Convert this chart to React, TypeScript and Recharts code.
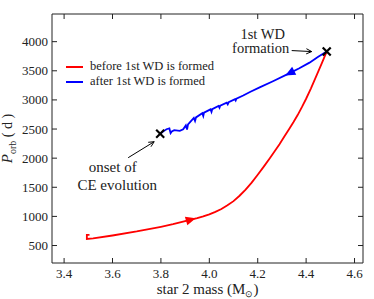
import React from 'react';
import { ComposedChart, Line, XAxis, YAxis, ReferenceDot, Legend, Label } from 'recharts';

const xTicks = [3.4, 3.6, 3.8, 4.0, 4.2, 4.4, 4.6];
const yTicks = [500, 1000, 1500, 2000, 2500, 3000, 3500, 4000];

const seriesNames = ['before 1st WD is formed', 'after 1st WD is formed'];
const seriesColors = ['#ff0000', '#0000ff'];

// before the 1st WD is formed (red)
const redMass = [
  3.505, 3.494, 3.494, 3.52, 3.6, 3.7, 3.8, 3.85, 3.9, 3.95, 3.975, 4.0, 4.025, 4.05,
  4.075, 4.1, 4.125, 4.15, 4.175, 4.2, 4.225, 4.25, 4.27, 4.29, 4.31, 4.33, 4.348,
  4.365, 4.383, 4.4, 4.42, 4.445, 4.465, 4.485,
];
const redPeriod = [
  683, 683, 612, 622, 672, 742, 822, 866, 918, 970, 1000, 1036, 1078, 1126,
  1190, 1262, 1355, 1460, 1580, 1715, 1855, 2000, 2120, 2240, 2370, 2500, 2620,
  2740, 2880, 3020, 3200, 3440, 3630, 3830,
];

// after the 1st WD is formed (blue), runs from right to left
const blueMass = [
  4.485, 4.45, 4.414, 4.37, 4.33, 4.263, 4.208, 4.17, 4.14, 4.112, 4.109, 4.106,
  4.08, 4.076, 4.072, 4.045, 4.042, 4.038, 4.012, 4.009, 4.005, 3.978, 3.975, 3.971,
  3.945, 3.941, 3.936, 3.912, 3.908, 3.903, 3.892, 3.878, 3.855, 3.845, 3.84, 3.835,
  3.823, 3.81, 3.797,
];
const bluePeriod = [
  3830, 3740, 3640, 3540, 3455, 3320, 3215, 3140, 3075, 3020, 2990, 3012,
  2960, 2925, 2952, 2900, 2865, 2897, 2840, 2795, 2838, 2780, 2725, 2772,
  2700, 2640, 2692, 2580, 2490, 2562, 2497, 2470, 2480, 2460, 2430, 2510,
  2497, 2460, 2420,
];

const crossPoints = [
  { m: 3.797, p: 2420 },
  { m: 4.485, p: 3830 },
];

const redData = redMass.map((m, i) => ({ m, p: redPeriod[i] }));
const blueData = blueMass.map((m, i) => ({ m, p: bluePeriod[i] }));

const FONT = "'Liberation Serif', 'Times New Roman', serif";
const INK = '#222';
const serif = { fontFamily: FONT };

const XTick = (props: any) => {
  const { x, y, payload } = props;
  return (
    <g>
      <line x1={x} y1={y} x2={x} y2={y - 5} stroke={INK} strokeWidth={1} />
      <text x={x} y={y + 15} textAnchor="middle" style={serif} fontSize={13} fill={INK}>
        {Number(payload.value).toFixed(1)}
      </text>
    </g>
  );
};

const YTick = (props: any) => {
  const { x, y, payload } = props;
  return (
    <g>
      <line x1={x} y1={y} x2={x + 5} y2={y} stroke={INK} strokeWidth={1} />
      <text x={x - 4} y={y + 4.5} textAnchor="end" style={serif} fontSize={13} fill={INK}>
        {payload.value}
      </text>
    </g>
  );
};

const TopTick = (props: any) => {
  const { x, y } = props;
  return <line x1={x} y1={y} x2={x} y2={y + 5} stroke={INK} strokeWidth={1} />;
};

const RightTick = (props: any) => {
  const { x, y } = props;
  return <line x1={x} y1={y} x2={x - 5} y2={y} stroke={INK} strokeWidth={1} />;
};

const Cross = ({ cx, cy }: any) => (
  <g stroke="#000" strokeWidth={2.2}>
    <line x1={cx - 4} y1={cy - 4} x2={cx + 4} y2={cy + 4} />
    <line x1={cx - 4} y1={cy + 4} x2={cx + 4} y2={cy - 4} />
  </g>
);

const arrowHead = (color: string, angle: number) => ({ cx, cy }: any) => (
  <polygon
    points="6,0 -4,-4.5 -4,4.5"
    fill={color}
    transform={`translate(${cx},${cy}) rotate(${angle})`}
  />
);

const OpenArrow = ({ x1, y1, x2, y2 }: { x1: number; y1: number; x2: number; y2: number }) => {
  const a = Math.atan2(y2 - y1, x2 - x1);
  const h = 6;
  const s = 0.45;
  return (
    <g stroke="#000" strokeWidth={1} fill="none">
      <line x1={x1} y1={y1} x2={x2} y2={y2} />
      <polyline
        points={`${x2 - h * Math.cos(a - s)},${y2 - h * Math.sin(a - s)} ${x2},${y2} ${x2 - h * Math.cos(a + s)},${y2 - h * Math.sin(a + s)}`}
      />
    </g>
  );
};

const OnsetNote = ({ cx, cy }: any) => (
  <g style={serif} fontSize={15} fill={INK}>
    <OpenArrow x1={cx - 32} y1={cy + 24} x2={cx - 6} y2={cy + 8} />
    <text x={cx - 47.5} y={cy + 38} textAnchor="middle">onset of</text>
    <text x={cx - 43} y={cy + 56} textAnchor="middle">CE evolution</text>
  </g>
);

const WdNote = ({ cx, cy }: any) => (
  <g style={serif} fontSize={14.5} fill={INK}>
    <OpenArrow x1={cx - 35} y1={cy - 1} x2={cx - 15} y2={cy} />
    <text x={cx - 64} y={cy - 13} textAnchor="middle">1st WD</text>
    <text x={cx - 66} y={cy + 1.5} textAnchor="middle">formation</text>
  </g>
);

const renderLegend = () => (
  <div style={{ fontFamily: FONT, fontSize: 12.5, color: INK }}>
    {seriesNames.map((name, i) => (
      <div key={name} style={{ display: 'flex', alignItems: 'center', height: 15 }}>
        <span style={{ display: 'inline-block', width: 17, height: 2, background: seriesColors[i], marginRight: 7 }} />
        <span>{name}</span>
      </div>
    ))}
  </div>
);

const YLabel = (props: any) => {
  const { viewBox } = props;
  const x = viewBox.x + viewBox.width - 40;
  const y = viewBox.y + viewBox.height / 2;
  return (
    <text transform={`translate(${x},${y}) rotate(-90)`} textAnchor="middle" style={serif} fill={INK}>
      <tspan fontSize={15} fontStyle="italic">P</tspan>
      <tspan fontSize={10} dy={4}>orb</tspan>
      <tspan fontSize={14} dy={-4}> ( d )</tspan>
    </text>
  );
};

const XLabel = (props: any) => {
  const { viewBox } = props;
  const x = viewBox.x + viewBox.width / 2;
  const y = viewBox.y + 31;
  return (
    <text x={x} y={y} textAnchor="middle" style={serif} fill={INK} fontSize={15}>
      <tspan>star 2 mass (M</tspan>
      <tspan fontSize={9} dy={3}>⊙</tspan>
      <tspan dy={-3}>)</tspan>
    </text>
  );
};

export default function App() {
  const xDomain = [3.35, 4.635];
  const yDomain = [200, 4475];
  return (
    <div style={{ position: 'absolute', left: 0, top: 0, background: '#fff' }}>
      <ComposedChart width={374} height={299} margin={{ top: 9, right: 6, bottom: 6, left: 8 }}>
        <XAxis
          type="number"
          dataKey="m"
          domain={xDomain}
          ticks={xTicks}
          allowDataOverflow
          height={30}
          tickSize={0}
          tickMargin={0}
          tickLine={false}
          axisLine={{ stroke: INK }}
          tick={<XTick />}
          interval={0}
        >
          <Label content={<XLabel />} />
        </XAxis>
        <XAxis
          xAxisId="top"
          orientation="top"
          type="number"
          dataKey="m"
          domain={xDomain}
          ticks={xTicks}
          allowDataOverflow
          height={5}
          tickSize={0}
          tickMargin={0}
          tickLine={false}
          axisLine={{ stroke: INK }}
          tick={<TopTick />}
          interval={0}
        />
        <YAxis
          type="number"
          domain={yDomain}
          ticks={yTicks}
          allowDataOverflow
          width={44}
          tickSize={0}
          tickMargin={0}
          tickLine={false}
          axisLine={{ stroke: INK }}
          tick={<YTick />}
          interval={0}
        >
          <Label content={<YLabel />} />
        </YAxis>
        <YAxis
          yAxisId="right"
          orientation="right"
          type="number"
          domain={yDomain}
          ticks={yTicks}
          allowDataOverflow
          width={5}
          tickSize={0}
          tickMargin={0}
          tickLine={false}
          axisLine={{ stroke: INK }}
          tick={<RightTick />}
          interval={0}
        />
        <Legend
          layout="vertical"
          align="center"
          verticalAlign="middle"
          content={renderLegend}
          wrapperStyle={{ position: 'absolute', left: 66, top: 59, width: 220 }}
        />
        <Line
          data={redData}
          dataKey="p"
          name={seriesNames[0]}
          type="linear"
          stroke={seriesColors[0]}
          strokeWidth={1.8}
          dot={false}
          activeDot={false}
          isAnimationActive={false}
        />
        <Line
          data={blueData}
          dataKey="p"
          name={seriesNames[1]}
          type="linear"
          stroke={seriesColors[1]}
          strokeWidth={1.8}
          dot={false}
          activeDot={false}
          isAnimationActive={false}
        />
        <ReferenceDot x={3.92} y={940} shape={arrowHead(seriesColors[0], -16)} />
        <ReferenceDot x={4.336} y={3468} shape={arrowHead(seriesColors[1], 153)} />
        {crossPoints.map((c) => (
          <ReferenceDot key={c.m} x={c.m} y={c.p} shape={<Cross />} />
        ))}
        <ReferenceDot x={crossPoints[0].m} y={crossPoints[0].p} shape={<OnsetNote />} />
        <ReferenceDot x={crossPoints[1].m} y={crossPoints[1].p} shape={<WdNote />} />
      </ComposedChart>
    </div>
  );
}
